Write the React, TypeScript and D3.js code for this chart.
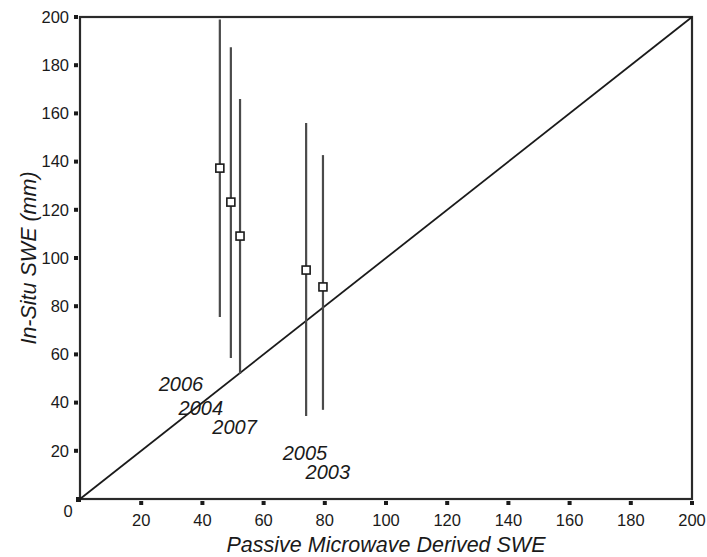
import React from "react";
import * as d3 from "d3";

// values
const years = ["2006", "2004", "2007", "2005", "2003"];
const pmSwe = [45.7, 49.3, 52.3, 73.9, 79.4];
const inSitu = [137.3, 123.2, 109.1, 95, 88];
const errTop = [199, 187.5, 166, 156, 142.7];
const errBottom = [75.5, 58.5, 51.9, 34.4, 37];
// where the year labels sit (data units)
const labelX = [33, 39.5, 50.5, 73.5, 81];
const labelY = [45, 35, 27, 16, 8.3];
const ticks = [20, 40, 60, 80, 100, 120, 140, 160, 180, 200];

const W = 707;
const H = 557;
const margin = { left: 80, right: 15, top: 17, bottom: 58 };

export default function App() {
  const x = d3.scaleLinear().domain([0, 200]).range([margin.left, W - margin.right]);
  const y = d3.scaleLinear().domain([0, 200]).range([H - margin.bottom, margin.top]);
  const axisCol = "#2a2a2a";
  const font = "'Liberation Sans', Arial, sans-serif";

  return (
    <svg width={W} height={H} style={{ position: "absolute", left: 0, top: 0, background: "#fff" }}>
      {/* frame */}
      <rect
        x={x(0)}
        y={y(200)}
        width={x(200) - x(0)}
        height={y(0) - y(200)}
        fill="none"
        stroke={axisCol}
        strokeWidth={2.2}
      />
      {/* 1:1 line */}
      <line x1={x(0)} y1={y(0)} x2={x(200)} y2={y(200)} stroke="#1a1a1a" strokeWidth={1.8} />

      {/* y ticks */}
      {ticks.map((t) => (
        <g key={"y" + t}>
          <rect x={x(0) - 6} y={y(t) - 2} width={4} height={4} fill="#1a1a1a" />
          <text
            x={x(0) - 11}
            y={y(t)}
            dy="0.35em"
            textAnchor="end"
            fontFamily={font}
            fontSize={16.5}
            fill="#1a1a1a"
          >
            {t}
          </text>
        </g>
      ))}
      {/* x ticks */}
      {ticks.map((t) => (
        <g key={"x" + t}>
          <rect x={x(t) - 2} y={y(0) + 2} width={4} height={4} fill="#1a1a1a" />
          <text x={x(t)} y={y(0) + 27} textAnchor="middle" fontFamily={font} fontSize={16.5} fill="#1a1a1a">
            {t}
          </text>
        </g>
      ))}
      <rect x={x(0) - 4} y={y(0) - 2} width={5} height={5} fill="#1a1a1a" />
      <text x={x(0) - 12} y={y(0) + 18} textAnchor="middle" fontFamily={font} fontSize={16.5} fill="#1a1a1a">
        0
      </text>

      {/* error bars and points */}
      {pmSwe.map((v, i) => (
        <g key={"p" + i}>
          <line x1={x(v)} x2={x(v)} y1={y(errTop[i])} y2={y(errBottom[i])} stroke="#4a4a4a" strokeWidth={2.2} />
          <rect x={x(v) - 4} y={y(inSitu[i]) - 4} width={8} height={8} fill="#fff" stroke="#1a1a1a" strokeWidth={1.6} />
        </g>
      ))}

      {/* year labels */}
      {years.map((yr, i) => (
        <text
          key={yr}
          x={x(labelX[i])}
          y={y(labelY[i])}
          textAnchor="middle"
          fontFamily={font}
          fontStyle="italic"
          fontSize={20}
          fill="#1a1a1a"
        >
          {yr}
        </text>
      ))}

      {/* axis titles */}
      <text
        x={(x(0) + x(200)) / 2}
        y={H - 5}
        textAnchor="middle"
        fontFamily={font}
        fontStyle="italic"
        fontSize={21.5}
        fill="#1a1a1a"
      >
        Passive Microwave Derived SWE
      </text>
      <text
        transform={`translate(36,${(y(0) + y(200)) / 2}) rotate(-90)`}
        textAnchor="middle"
        fontFamily={font}
        fontStyle="italic"
        fontSize={21.5}
        fill="#1a1a1a"
      >
        In-Situ SWE (mm)
      </text>
    </svg>
  );
}
